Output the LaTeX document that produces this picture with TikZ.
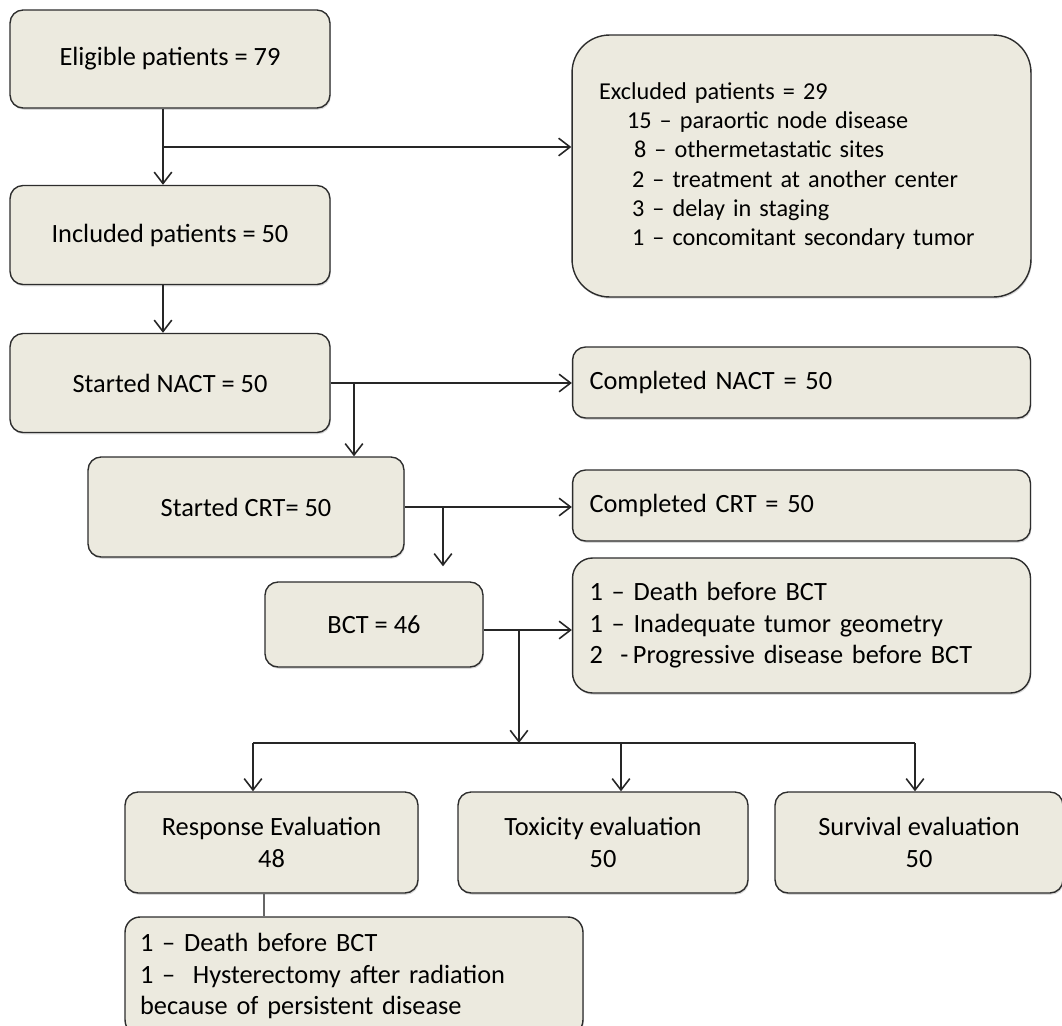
\documentclass[tikz,border=0pt]{standalone}
\usepackage{fontspec}
\setmainfont{Carlito}
\usetikzlibrary{shapes,arrows.meta,calc,shadows}

\definecolor{boxfill}{RGB}{236,234,223}
\definecolor{boxline}{RGB}{45,45,45}

\begin{document}
\begin{tikzpicture}[x=0.02cm, y=-0.02cm, font=\fontsize{15}{17.9}\selectfont]
\tikzset{
    %Define standard arrow tip
    >={Straight Barb[length=6.5pt,width=10pt]},
    %Define style for boxes
    kasse/.style={
           rectangle,
           rounded corners=0.26cm,
           draw=boxline, line width=0.8pt,
           fill=boxfill,
           drop shadow={shadow xshift=0.5pt, shadow yshift=-1pt, opacity=0.3},
           align=center},
    % Define style for left aligned boxes on the right
    tekst/.style={
           kasse,
           align=left,
           inner xsep=0.34cm,
           text width=8.48cm,
           minimum height=#1},
    % Define arrow style
    pil/.style={
           ->,
           line width=0.9pt,
           draw=black!85},
    linje/.style={
           line width=0.9pt,
           draw=black!85}
}
\useasboundingbox (0,0) rectangle (1062,1025);

 %left column
 \node[kasse, minimum width=6.4cm, minimum height=1.96cm] (eligible) at (170,59) {Eligible patients = 79};
 \node[kasse, minimum width=6.4cm, minimum height=1.98cm] (included) at (170,235) {Included patients = 50};
 \node[kasse, minimum width=6.4cm, minimum height=1.98cm] (nact) at (170,383) {Started NACT = 50};
 \node[kasse, minimum width=6.32cm, minimum height=2cm] (crt) at (246,507) {Started CRT= 50};
 \node[kasse, minimum width=4.36cm, minimum height=1.7cm] (bct) at (374,624.5) {BCT = 46};

 %right column
 \node[kasse, align=left, rounded corners=0.75cm, inner xsep=0.54cm, text width=8.1cm,
   minimum height=5.24cm, font=\fontsize{13.8}{16.7}\selectfont] (excluded) at (801.5,166)
   {Excluded patients = 29\\
    \hspace*{0.56cm}15 – paraortic node disease\\
    \hspace*{0.7cm}8 – othermetastatic sites\\
    \hspace*{0.66cm}2 – treatment at another center\\
    \hspace*{0.66cm}3 – delay in staging\\
    \hspace*{0.66cm}1 – concomitant secondary tumor};
 \node[tekst=1.42cm] (nactdone) at (801.5,382.5) {Completed NACT = 50};
 \node[tekst=1.42cm] (crtdone) at (801.5,505.5) {Completed CRT = 50};
 \node[tekst=2.7cm, rounded corners=0.4cm] (bctlost) at (801.5,625.5)
   {1 – Death before BCT\\ 1 – Inadequate tumor geometry\\ 2 \ -\,Progressive disease before BCT};

 %evaluations
 \node[kasse, minimum width=5.86cm, minimum height=2.02cm] (response) at (271.5,842.5) {Response Evaluation\\ 48};
 \node[kasse, minimum width=5.8cm, minimum height=2.02cm] (toxicity) at (603,842.5) {Toxicity evaluation\\ 50};
 \node[kasse, minimum width=5.76cm, minimum height=2.02cm] (survival) at (919,842.5) {Survival evaluation\\ 50};
 \node[kasse, align=left, inner xsep=0.3cm, text width=8.56cm, minimum height=2.36cm,
   rounded corners=0.3cm] (resplost) at (354,976)
   {1 – Death before BCT\\ 1 –\ \ Hysterectomy after radiation\\ because of persistent disease};

 %connectors
 \coordinate (c1) at (163,147);
 \coordinate (c2) at (354,383);
 \coordinate (c3) at (443,507);
 \coordinate (c4) at (519,630);
 \coordinate (c5) at (519,743);
 \coordinate (b1) at (253,743);
 \coordinate (b2) at (621,743);
 \coordinate (b3) at (915,743);
 \coordinate (c6) at (264,900);
 \draw[pil] (eligible.south -| c1) -- (included.north -| c1);
 \draw[pil] (c1) -- (c1 -| excluded.west);
 \draw[pil] (included.south -| c1) -- (nact.north -| c1);
 \draw[pil] (nact.east) -- (nact.east -| nactdone.west);
 \draw[pil] (c2) -- (c2 |- crt.north);
 \draw[pil] (crt.east) -- (crt.east -| crtdone.west);
 \draw[pil, shorten >=0.3cm] (c3) -- (c3 |- bct.north);
 \draw[pil] (bct.east |- c4) -- (c4 -| bctlost.west);
 \draw[pil] (c4) -- (c5);
 \draw[linje] (b1) -- (b3);
 \draw[pil] (b1) -- (b1 |- response.north);
 \draw[pil] (b2) -- (b2 |- toxicity.north);
 \draw[pil] (b3) -- (b3 |- survival.north);
 \draw[black!60, line width=0.6pt] (response.south -| c6) -- (resplost.north -| c6);
\end{tikzpicture}
\end{document}
